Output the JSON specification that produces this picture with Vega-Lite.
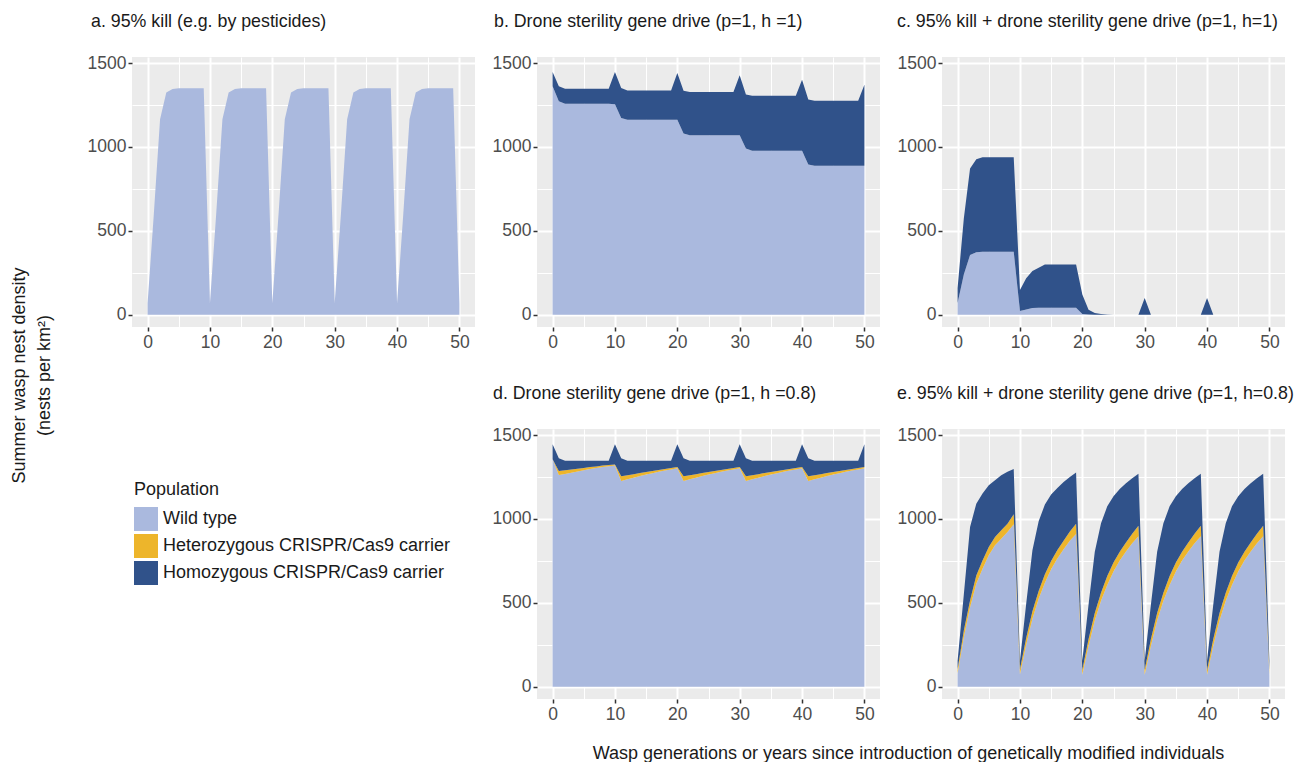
{
 "$schema": "https://vega.github.io/schema/vega-lite/v6.json",
 "padding": {"left": 10, "top": 13, "right": 0, "bottom": 0},
 "background": "white",
 "columns": 3,
 "spacing": {"row": 102, "column": 62},
 "bounds": "flush",
 "datasets": {
  "a": [
   {"t":0,"pop":"Wild type","n":68},{"t":1,"pop":"Wild type","n":600},{"t":2,"pop":"Wild type","n":1165},{"t":3,"pop":"Wild type","n":1325},{"t":4,"pop":"Wild type","n":1345},{"t":5,"pop":"Wild type","n":1350},{"t":6,"pop":"Wild type","n":1350},{"t":7,"pop":"Wild type","n":1350},{"t":8,"pop":"Wild type","n":1350},{"t":9,"pop":"Wild type","n":1350},
   {"t":10,"pop":"Wild type","n":68},{"t":11,"pop":"Wild type","n":600},{"t":12,"pop":"Wild type","n":1165},{"t":13,"pop":"Wild type","n":1325},{"t":14,"pop":"Wild type","n":1345},{"t":15,"pop":"Wild type","n":1350},{"t":16,"pop":"Wild type","n":1350},{"t":17,"pop":"Wild type","n":1350},{"t":18,"pop":"Wild type","n":1350},{"t":19,"pop":"Wild type","n":1350},
   {"t":20,"pop":"Wild type","n":68},{"t":21,"pop":"Wild type","n":600},{"t":22,"pop":"Wild type","n":1165},{"t":23,"pop":"Wild type","n":1325},{"t":24,"pop":"Wild type","n":1345},{"t":25,"pop":"Wild type","n":1350},{"t":26,"pop":"Wild type","n":1350},{"t":27,"pop":"Wild type","n":1350},{"t":28,"pop":"Wild type","n":1350},{"t":29,"pop":"Wild type","n":1350},
   {"t":30,"pop":"Wild type","n":68},{"t":31,"pop":"Wild type","n":600},{"t":32,"pop":"Wild type","n":1165},{"t":33,"pop":"Wild type","n":1325},{"t":34,"pop":"Wild type","n":1345},{"t":35,"pop":"Wild type","n":1350},{"t":36,"pop":"Wild type","n":1350},{"t":37,"pop":"Wild type","n":1350},{"t":38,"pop":"Wild type","n":1350},{"t":39,"pop":"Wild type","n":1350},
   {"t":40,"pop":"Wild type","n":68},{"t":41,"pop":"Wild type","n":600},{"t":42,"pop":"Wild type","n":1165},{"t":43,"pop":"Wild type","n":1325},{"t":44,"pop":"Wild type","n":1345},{"t":45,"pop":"Wild type","n":1350},{"t":46,"pop":"Wild type","n":1350},{"t":47,"pop":"Wild type","n":1350},{"t":48,"pop":"Wild type","n":1350},{"t":49,"pop":"Wild type","n":1350},
   {"t":50,"pop":"Wild type","n":68}
  ],
  "b": [
   {"t":0,"pop":"Wild type","n":1361},{"t":0,"pop":"Homozygous CRISPR/Cas9 carrier","n":85},
   {"t":1,"pop":"Wild type","n":1272},{"t":1,"pop":"Homozygous CRISPR/Cas9 carrier","n":89},
   {"t":2,"pop":"Wild type","n":1258},{"t":2,"pop":"Homozygous CRISPR/Cas9 carrier","n":89},
   {"t":3,"pop":"Wild type","n":1258},{"t":3,"pop":"Homozygous CRISPR/Cas9 carrier","n":89},
   {"t":4,"pop":"Wild type","n":1258},{"t":4,"pop":"Homozygous CRISPR/Cas9 carrier","n":89},
   {"t":5,"pop":"Wild type","n":1258},{"t":5,"pop":"Homozygous CRISPR/Cas9 carrier","n":89},
   {"t":6,"pop":"Wild type","n":1258},{"t":6,"pop":"Homozygous CRISPR/Cas9 carrier","n":89},
   {"t":7,"pop":"Wild type","n":1258},{"t":7,"pop":"Homozygous CRISPR/Cas9 carrier","n":89},
   {"t":8,"pop":"Wild type","n":1258},{"t":8,"pop":"Homozygous CRISPR/Cas9 carrier","n":89},
   {"t":9,"pop":"Wild type","n":1258},{"t":9,"pop":"Homozygous CRISPR/Cas9 carrier","n":89},
   {"t":10,"pop":"Wild type","n":1255},{"t":10,"pop":"Homozygous CRISPR/Cas9 carrier","n":191},
   {"t":11,"pop":"Wild type","n":1172},{"t":11,"pop":"Homozygous CRISPR/Cas9 carrier","n":179},
   {"t":12,"pop":"Wild type","n":1162},{"t":12,"pop":"Homozygous CRISPR/Cas9 carrier","n":175},
   {"t":13,"pop":"Wild type","n":1162},{"t":13,"pop":"Homozygous CRISPR/Cas9 carrier","n":175},
   {"t":14,"pop":"Wild type","n":1162},{"t":14,"pop":"Homozygous CRISPR/Cas9 carrier","n":175},
   {"t":15,"pop":"Wild type","n":1162},{"t":15,"pop":"Homozygous CRISPR/Cas9 carrier","n":175},
   {"t":16,"pop":"Wild type","n":1162},{"t":16,"pop":"Homozygous CRISPR/Cas9 carrier","n":175},
   {"t":17,"pop":"Wild type","n":1162},{"t":17,"pop":"Homozygous CRISPR/Cas9 carrier","n":175},
   {"t":18,"pop":"Wild type","n":1162},{"t":18,"pop":"Homozygous CRISPR/Cas9 carrier","n":175},
   {"t":19,"pop":"Wild type","n":1162},{"t":19,"pop":"Homozygous CRISPR/Cas9 carrier","n":175},
   {"t":20,"pop":"Wild type","n":1162},{"t":20,"pop":"Homozygous CRISPR/Cas9 carrier","n":278},
   {"t":21,"pop":"Wild type","n":1080},{"t":21,"pop":"Homozygous CRISPR/Cas9 carrier","n":255},
   {"t":22,"pop":"Wild type","n":1069},{"t":22,"pop":"Homozygous CRISPR/Cas9 carrier","n":258},
   {"t":23,"pop":"Wild type","n":1069},{"t":23,"pop":"Homozygous CRISPR/Cas9 carrier","n":258},
   {"t":24,"pop":"Wild type","n":1069},{"t":24,"pop":"Homozygous CRISPR/Cas9 carrier","n":258},
   {"t":25,"pop":"Wild type","n":1069},{"t":25,"pop":"Homozygous CRISPR/Cas9 carrier","n":258},
   {"t":26,"pop":"Wild type","n":1069},{"t":26,"pop":"Homozygous CRISPR/Cas9 carrier","n":258},
   {"t":27,"pop":"Wild type","n":1069},{"t":27,"pop":"Homozygous CRISPR/Cas9 carrier","n":258},
   {"t":28,"pop":"Wild type","n":1069},{"t":28,"pop":"Homozygous CRISPR/Cas9 carrier","n":258},
   {"t":29,"pop":"Wild type","n":1069},{"t":29,"pop":"Homozygous CRISPR/Cas9 carrier","n":258},
   {"t":30,"pop":"Wild type","n":1069},{"t":30,"pop":"Homozygous CRISPR/Cas9 carrier","n":358},
   {"t":31,"pop":"Wild type","n":990},{"t":31,"pop":"Homozygous CRISPR/Cas9 carrier","n":322},
   {"t":32,"pop":"Wild type","n":978},{"t":32,"pop":"Homozygous CRISPR/Cas9 carrier","n":327},
   {"t":33,"pop":"Wild type","n":978},{"t":33,"pop":"Homozygous CRISPR/Cas9 carrier","n":327},
   {"t":34,"pop":"Wild type","n":978},{"t":34,"pop":"Homozygous CRISPR/Cas9 carrier","n":327},
   {"t":35,"pop":"Wild type","n":978},{"t":35,"pop":"Homozygous CRISPR/Cas9 carrier","n":327},
   {"t":36,"pop":"Wild type","n":978},{"t":36,"pop":"Homozygous CRISPR/Cas9 carrier","n":327},
   {"t":37,"pop":"Wild type","n":978},{"t":37,"pop":"Homozygous CRISPR/Cas9 carrier","n":327},
   {"t":38,"pop":"Wild type","n":978},{"t":38,"pop":"Homozygous CRISPR/Cas9 carrier","n":327},
   {"t":39,"pop":"Wild type","n":978},{"t":39,"pop":"Homozygous CRISPR/Cas9 carrier","n":327},
   {"t":40,"pop":"Wild type","n":978},{"t":40,"pop":"Homozygous CRISPR/Cas9 carrier","n":423},
   {"t":41,"pop":"Wild type","n":895},{"t":41,"pop":"Homozygous CRISPR/Cas9 carrier","n":388},
   {"t":42,"pop":"Wild type","n":888},{"t":42,"pop":"Homozygous CRISPR/Cas9 carrier","n":388},
   {"t":43,"pop":"Wild type","n":888},{"t":43,"pop":"Homozygous CRISPR/Cas9 carrier","n":388},
   {"t":44,"pop":"Wild type","n":888},{"t":44,"pop":"Homozygous CRISPR/Cas9 carrier","n":388},
   {"t":45,"pop":"Wild type","n":888},{"t":45,"pop":"Homozygous CRISPR/Cas9 carrier","n":388},
   {"t":46,"pop":"Wild type","n":888},{"t":46,"pop":"Homozygous CRISPR/Cas9 carrier","n":388},
   {"t":47,"pop":"Wild type","n":888},{"t":47,"pop":"Homozygous CRISPR/Cas9 carrier","n":388},
   {"t":48,"pop":"Wild type","n":888},{"t":48,"pop":"Homozygous CRISPR/Cas9 carrier","n":388},
   {"t":49,"pop":"Wild type","n":888},{"t":49,"pop":"Homozygous CRISPR/Cas9 carrier","n":388},
   {"t":50,"pop":"Wild type","n":888},{"t":50,"pop":"Homozygous CRISPR/Cas9 carrier","n":483}
  ],
  "c": [
   {"t":0,"pop":"Wild type","n":70},{"t":0,"pop":"Homozygous CRISPR/Cas9 carrier","n":90},
   {"t":1,"pop":"Wild type","n":240},{"t":1,"pop":"Homozygous CRISPR/Cas9 carrier","n":334},
   {"t":2,"pop":"Wild type","n":356},{"t":2,"pop":"Homozygous CRISPR/Cas9 carrier","n":515},
   {"t":3,"pop":"Wild type","n":372},{"t":3,"pop":"Homozygous CRISPR/Cas9 carrier","n":554},
   {"t":4,"pop":"Wild type","n":376},{"t":4,"pop":"Homozygous CRISPR/Cas9 carrier","n":562},
   {"t":5,"pop":"Wild type","n":376},{"t":5,"pop":"Homozygous CRISPR/Cas9 carrier","n":562},
   {"t":6,"pop":"Wild type","n":376},{"t":6,"pop":"Homozygous CRISPR/Cas9 carrier","n":562},
   {"t":7,"pop":"Wild type","n":376},{"t":7,"pop":"Homozygous CRISPR/Cas9 carrier","n":562},
   {"t":8,"pop":"Wild type","n":376},{"t":8,"pop":"Homozygous CRISPR/Cas9 carrier","n":562},
   {"t":9,"pop":"Wild type","n":376},{"t":9,"pop":"Homozygous CRISPR/Cas9 carrier","n":562},
   {"t":10,"pop":"Wild type","n":22},{"t":10,"pop":"Homozygous CRISPR/Cas9 carrier","n":126},
   {"t":11,"pop":"Wild type","n":32},{"t":11,"pop":"Homozygous CRISPR/Cas9 carrier","n":186},
   {"t":12,"pop":"Wild type","n":40},{"t":12,"pop":"Homozygous CRISPR/Cas9 carrier","n":221},
   {"t":13,"pop":"Wild type","n":42},{"t":13,"pop":"Homozygous CRISPR/Cas9 carrier","n":238},
   {"t":14,"pop":"Wild type","n":42},{"t":14,"pop":"Homozygous CRISPR/Cas9 carrier","n":258},
   {"t":15,"pop":"Wild type","n":42},{"t":15,"pop":"Homozygous CRISPR/Cas9 carrier","n":258},
   {"t":16,"pop":"Wild type","n":42},{"t":16,"pop":"Homozygous CRISPR/Cas9 carrier","n":258},
   {"t":17,"pop":"Wild type","n":42},{"t":17,"pop":"Homozygous CRISPR/Cas9 carrier","n":258},
   {"t":18,"pop":"Wild type","n":42},{"t":18,"pop":"Homozygous CRISPR/Cas9 carrier","n":258},
   {"t":19,"pop":"Wild type","n":42},{"t":19,"pop":"Homozygous CRISPR/Cas9 carrier","n":258},
   {"t":20,"pop":"Wild type","n":4},{"t":20,"pop":"Homozygous CRISPR/Cas9 carrier","n":116},
   {"t":21,"pop":"Wild type","n":1},{"t":21,"pop":"Homozygous CRISPR/Cas9 carrier","n":29},
   {"t":22,"pop":"Wild type","n":0},{"t":22,"pop":"Homozygous CRISPR/Cas9 carrier","n":10},
   {"t":23,"pop":"Wild type","n":0},{"t":23,"pop":"Homozygous CRISPR/Cas9 carrier","n":4},
   {"t":24,"pop":"Wild type","n":0},{"t":24,"pop":"Homozygous CRISPR/Cas9 carrier","n":1},
   {"t":25,"pop":"Wild type","n":0},{"t":25,"pop":"Homozygous CRISPR/Cas9 carrier","n":0},
   {"t":26,"pop":"Wild type","n":0},{"t":26,"pop":"Homozygous CRISPR/Cas9 carrier","n":0},
   {"t":27,"pop":"Wild type","n":0},{"t":27,"pop":"Homozygous CRISPR/Cas9 carrier","n":0},
   {"t":28,"pop":"Wild type","n":0},{"t":28,"pop":"Homozygous CRISPR/Cas9 carrier","n":0},
   {"t":29,"pop":"Wild type","n":0},{"t":29,"pop":"Homozygous CRISPR/Cas9 carrier","n":0},
   {"t":30,"pop":"Wild type","n":0},{"t":30,"pop":"Homozygous CRISPR/Cas9 carrier","n":100},
   {"t":31,"pop":"Wild type","n":0},{"t":31,"pop":"Homozygous CRISPR/Cas9 carrier","n":0},
   {"t":32,"pop":"Wild type","n":0},{"t":32,"pop":"Homozygous CRISPR/Cas9 carrier","n":0},
   {"t":33,"pop":"Wild type","n":0},{"t":33,"pop":"Homozygous CRISPR/Cas9 carrier","n":0},
   {"t":34,"pop":"Wild type","n":0},{"t":34,"pop":"Homozygous CRISPR/Cas9 carrier","n":0},
   {"t":35,"pop":"Wild type","n":0},{"t":35,"pop":"Homozygous CRISPR/Cas9 carrier","n":0},
   {"t":36,"pop":"Wild type","n":0},{"t":36,"pop":"Homozygous CRISPR/Cas9 carrier","n":0},
   {"t":37,"pop":"Wild type","n":0},{"t":37,"pop":"Homozygous CRISPR/Cas9 carrier","n":0},
   {"t":38,"pop":"Wild type","n":0},{"t":38,"pop":"Homozygous CRISPR/Cas9 carrier","n":0},
   {"t":39,"pop":"Wild type","n":0},{"t":39,"pop":"Homozygous CRISPR/Cas9 carrier","n":0},
   {"t":40,"pop":"Wild type","n":0},{"t":40,"pop":"Homozygous CRISPR/Cas9 carrier","n":100},
   {"t":41,"pop":"Wild type","n":0},{"t":41,"pop":"Homozygous CRISPR/Cas9 carrier","n":0},
   {"t":42,"pop":"Wild type","n":0},{"t":42,"pop":"Homozygous CRISPR/Cas9 carrier","n":0},
   {"t":43,"pop":"Wild type","n":0},{"t":43,"pop":"Homozygous CRISPR/Cas9 carrier","n":0},
   {"t":44,"pop":"Wild type","n":0},{"t":44,"pop":"Homozygous CRISPR/Cas9 carrier","n":0},
   {"t":45,"pop":"Wild type","n":0},{"t":45,"pop":"Homozygous CRISPR/Cas9 carrier","n":0},
   {"t":46,"pop":"Wild type","n":0},{"t":46,"pop":"Homozygous CRISPR/Cas9 carrier","n":0},
   {"t":47,"pop":"Wild type","n":0},{"t":47,"pop":"Homozygous CRISPR/Cas9 carrier","n":0},
   {"t":48,"pop":"Wild type","n":0},{"t":48,"pop":"Homozygous CRISPR/Cas9 carrier","n":0},
   {"t":49,"pop":"Wild type","n":0},{"t":49,"pop":"Homozygous CRISPR/Cas9 carrier","n":0},
   {"t":50,"pop":"Wild type","n":0},{"t":50,"pop":"Homozygous CRISPR/Cas9 carrier","n":0}
  ],
  "d": [
   {"t":0,"pop":"Wild type","n":1355},{"t":0,"pop":"Heterozygous CRISPR/Cas9 carrier","n":0},{"t":0,"pop":"Homozygous CRISPR/Cas9 carrier","n":90},
   {"t":1,"pop":"Wild type","n":1262},{"t":1,"pop":"Heterozygous CRISPR/Cas9 carrier","n":24},{"t":1,"pop":"Homozygous CRISPR/Cas9 carrier","n":76},
   {"t":2,"pop":"Wild type","n":1268},{"t":2,"pop":"Heterozygous CRISPR/Cas9 carrier","n":22},{"t":2,"pop":"Homozygous CRISPR/Cas9 carrier","n":57},
   {"t":3,"pop":"Wild type","n":1276},{"t":3,"pop":"Heterozygous CRISPR/Cas9 carrier","n":19},{"t":3,"pop":"Homozygous CRISPR/Cas9 carrier","n":52},
   {"t":4,"pop":"Wild type","n":1283},{"t":4,"pop":"Heterozygous CRISPR/Cas9 carrier","n":16},{"t":4,"pop":"Homozygous CRISPR/Cas9 carrier","n":48},
   {"t":5,"pop":"Wild type","n":1290},{"t":5,"pop":"Heterozygous CRISPR/Cas9 carrier","n":14},{"t":5,"pop":"Homozygous CRISPR/Cas9 carrier","n":43},
   {"t":6,"pop":"Wild type","n":1297},{"t":6,"pop":"Heterozygous CRISPR/Cas9 carrier","n":12},{"t":6,"pop":"Homozygous CRISPR/Cas9 carrier","n":38},
   {"t":7,"pop":"Wild type","n":1303},{"t":7,"pop":"Heterozygous CRISPR/Cas9 carrier","n":10},{"t":7,"pop":"Homozygous CRISPR/Cas9 carrier","n":34},
   {"t":8,"pop":"Wild type","n":1309},{"t":8,"pop":"Heterozygous CRISPR/Cas9 carrier","n":9},{"t":8,"pop":"Homozygous CRISPR/Cas9 carrier","n":29},
   {"t":9,"pop":"Wild type","n":1314},{"t":9,"pop":"Heterozygous CRISPR/Cas9 carrier","n":8},{"t":9,"pop":"Homozygous CRISPR/Cas9 carrier","n":25},
   {"t":10,"pop":"Wild type","n":1318},{"t":10,"pop":"Heterozygous CRISPR/Cas9 carrier","n":7},{"t":10,"pop":"Homozygous CRISPR/Cas9 carrier","n":120},
   {"t":11,"pop":"Wild type","n":1226},{"t":11,"pop":"Heterozygous CRISPR/Cas9 carrier","n":28},{"t":11,"pop":"Homozygous CRISPR/Cas9 carrier","n":108},
   {"t":12,"pop":"Wild type","n":1236},{"t":12,"pop":"Heterozygous CRISPR/Cas9 carrier","n":25},{"t":12,"pop":"Homozygous CRISPR/Cas9 carrier","n":86},
   {"t":13,"pop":"Wild type","n":1246},{"t":13,"pop":"Heterozygous CRISPR/Cas9 carrier","n":21},{"t":13,"pop":"Homozygous CRISPR/Cas9 carrier","n":80},
   {"t":14,"pop":"Wild type","n":1256},{"t":14,"pop":"Heterozygous CRISPR/Cas9 carrier","n":18},{"t":14,"pop":"Homozygous CRISPR/Cas9 carrier","n":73},
   {"t":15,"pop":"Wild type","n":1265},{"t":15,"pop":"Heterozygous CRISPR/Cas9 carrier","n":15},{"t":15,"pop":"Homozygous CRISPR/Cas9 carrier","n":67},
   {"t":16,"pop":"Wild type","n":1273},{"t":16,"pop":"Heterozygous CRISPR/Cas9 carrier","n":13},{"t":16,"pop":"Homozygous CRISPR/Cas9 carrier","n":61},
   {"t":17,"pop":"Wild type","n":1281},{"t":17,"pop":"Heterozygous CRISPR/Cas9 carrier","n":11},{"t":17,"pop":"Homozygous CRISPR/Cas9 carrier","n":55},
   {"t":18,"pop":"Wild type","n":1288},{"t":18,"pop":"Heterozygous CRISPR/Cas9 carrier","n":9},{"t":18,"pop":"Homozygous CRISPR/Cas9 carrier","n":50},
   {"t":19,"pop":"Wild type","n":1295},{"t":19,"pop":"Heterozygous CRISPR/Cas9 carrier","n":8},{"t":19,"pop":"Homozygous CRISPR/Cas9 carrier","n":44},
   {"t":20,"pop":"Wild type","n":1302},{"t":20,"pop":"Heterozygous CRISPR/Cas9 carrier","n":7},{"t":20,"pop":"Homozygous CRISPR/Cas9 carrier","n":136},
   {"t":21,"pop":"Wild type","n":1226},{"t":21,"pop":"Heterozygous CRISPR/Cas9 carrier","n":28},{"t":21,"pop":"Homozygous CRISPR/Cas9 carrier","n":108},
   {"t":22,"pop":"Wild type","n":1236},{"t":22,"pop":"Heterozygous CRISPR/Cas9 carrier","n":25},{"t":22,"pop":"Homozygous CRISPR/Cas9 carrier","n":86},
   {"t":23,"pop":"Wild type","n":1246},{"t":23,"pop":"Heterozygous CRISPR/Cas9 carrier","n":21},{"t":23,"pop":"Homozygous CRISPR/Cas9 carrier","n":80},
   {"t":24,"pop":"Wild type","n":1256},{"t":24,"pop":"Heterozygous CRISPR/Cas9 carrier","n":18},{"t":24,"pop":"Homozygous CRISPR/Cas9 carrier","n":73},
   {"t":25,"pop":"Wild type","n":1265},{"t":25,"pop":"Heterozygous CRISPR/Cas9 carrier","n":15},{"t":25,"pop":"Homozygous CRISPR/Cas9 carrier","n":67},
   {"t":26,"pop":"Wild type","n":1273},{"t":26,"pop":"Heterozygous CRISPR/Cas9 carrier","n":13},{"t":26,"pop":"Homozygous CRISPR/Cas9 carrier","n":61},
   {"t":27,"pop":"Wild type","n":1281},{"t":27,"pop":"Heterozygous CRISPR/Cas9 carrier","n":11},{"t":27,"pop":"Homozygous CRISPR/Cas9 carrier","n":55},
   {"t":28,"pop":"Wild type","n":1288},{"t":28,"pop":"Heterozygous CRISPR/Cas9 carrier","n":9},{"t":28,"pop":"Homozygous CRISPR/Cas9 carrier","n":50},
   {"t":29,"pop":"Wild type","n":1295},{"t":29,"pop":"Heterozygous CRISPR/Cas9 carrier","n":8},{"t":29,"pop":"Homozygous CRISPR/Cas9 carrier","n":44},
   {"t":30,"pop":"Wild type","n":1302},{"t":30,"pop":"Heterozygous CRISPR/Cas9 carrier","n":7},{"t":30,"pop":"Homozygous CRISPR/Cas9 carrier","n":136},
   {"t":31,"pop":"Wild type","n":1226},{"t":31,"pop":"Heterozygous CRISPR/Cas9 carrier","n":28},{"t":31,"pop":"Homozygous CRISPR/Cas9 carrier","n":108},
   {"t":32,"pop":"Wild type","n":1236},{"t":32,"pop":"Heterozygous CRISPR/Cas9 carrier","n":25},{"t":32,"pop":"Homozygous CRISPR/Cas9 carrier","n":86},
   {"t":33,"pop":"Wild type","n":1246},{"t":33,"pop":"Heterozygous CRISPR/Cas9 carrier","n":21},{"t":33,"pop":"Homozygous CRISPR/Cas9 carrier","n":80},
   {"t":34,"pop":"Wild type","n":1256},{"t":34,"pop":"Heterozygous CRISPR/Cas9 carrier","n":18},{"t":34,"pop":"Homozygous CRISPR/Cas9 carrier","n":73},
   {"t":35,"pop":"Wild type","n":1265},{"t":35,"pop":"Heterozygous CRISPR/Cas9 carrier","n":15},{"t":35,"pop":"Homozygous CRISPR/Cas9 carrier","n":67},
   {"t":36,"pop":"Wild type","n":1273},{"t":36,"pop":"Heterozygous CRISPR/Cas9 carrier","n":13},{"t":36,"pop":"Homozygous CRISPR/Cas9 carrier","n":61},
   {"t":37,"pop":"Wild type","n":1281},{"t":37,"pop":"Heterozygous CRISPR/Cas9 carrier","n":11},{"t":37,"pop":"Homozygous CRISPR/Cas9 carrier","n":55},
   {"t":38,"pop":"Wild type","n":1288},{"t":38,"pop":"Heterozygous CRISPR/Cas9 carrier","n":9},{"t":38,"pop":"Homozygous CRISPR/Cas9 carrier","n":50},
   {"t":39,"pop":"Wild type","n":1295},{"t":39,"pop":"Heterozygous CRISPR/Cas9 carrier","n":8},{"t":39,"pop":"Homozygous CRISPR/Cas9 carrier","n":44},
   {"t":40,"pop":"Wild type","n":1302},{"t":40,"pop":"Heterozygous CRISPR/Cas9 carrier","n":7},{"t":40,"pop":"Homozygous CRISPR/Cas9 carrier","n":136},
   {"t":41,"pop":"Wild type","n":1226},{"t":41,"pop":"Heterozygous CRISPR/Cas9 carrier","n":28},{"t":41,"pop":"Homozygous CRISPR/Cas9 carrier","n":108},
   {"t":42,"pop":"Wild type","n":1236},{"t":42,"pop":"Heterozygous CRISPR/Cas9 carrier","n":25},{"t":42,"pop":"Homozygous CRISPR/Cas9 carrier","n":86},
   {"t":43,"pop":"Wild type","n":1246},{"t":43,"pop":"Heterozygous CRISPR/Cas9 carrier","n":21},{"t":43,"pop":"Homozygous CRISPR/Cas9 carrier","n":80},
   {"t":44,"pop":"Wild type","n":1256},{"t":44,"pop":"Heterozygous CRISPR/Cas9 carrier","n":18},{"t":44,"pop":"Homozygous CRISPR/Cas9 carrier","n":73},
   {"t":45,"pop":"Wild type","n":1265},{"t":45,"pop":"Heterozygous CRISPR/Cas9 carrier","n":15},{"t":45,"pop":"Homozygous CRISPR/Cas9 carrier","n":67},
   {"t":46,"pop":"Wild type","n":1273},{"t":46,"pop":"Heterozygous CRISPR/Cas9 carrier","n":13},{"t":46,"pop":"Homozygous CRISPR/Cas9 carrier","n":61},
   {"t":47,"pop":"Wild type","n":1281},{"t":47,"pop":"Heterozygous CRISPR/Cas9 carrier","n":11},{"t":47,"pop":"Homozygous CRISPR/Cas9 carrier","n":55},
   {"t":48,"pop":"Wild type","n":1288},{"t":48,"pop":"Heterozygous CRISPR/Cas9 carrier","n":9},{"t":48,"pop":"Homozygous CRISPR/Cas9 carrier","n":50},
   {"t":49,"pop":"Wild type","n":1295},{"t":49,"pop":"Heterozygous CRISPR/Cas9 carrier","n":8},{"t":49,"pop":"Homozygous CRISPR/Cas9 carrier","n":44},
   {"t":50,"pop":"Wild type","n":1302},{"t":50,"pop":"Heterozygous CRISPR/Cas9 carrier","n":7},{"t":50,"pop":"Homozygous CRISPR/Cas9 carrier","n":136}
  ],
  "e": [
   {"t":0,"pop":"Wild type","n":80},{"t":0,"pop":"Heterozygous CRISPR/Cas9 carrier","n":25},{"t":0,"pop":"Homozygous CRISPR/Cas9 carrier","n":50},
   {"t":1,"pop":"Wild type","n":295},{"t":1,"pop":"Heterozygous CRISPR/Cas9 carrier","n":40},{"t":1,"pop":"Homozygous CRISPR/Cas9 carrier","n":215},
   {"t":2,"pop":"Wild type","n":474},{"t":2,"pop":"Heterozygous CRISPR/Cas9 carrier","n":40},{"t":2,"pop":"Homozygous CRISPR/Cas9 carrier","n":438},
   {"t":3,"pop":"Wild type","n":614},{"t":3,"pop":"Heterozygous CRISPR/Cas9 carrier","n":49},{"t":3,"pop":"Homozygous CRISPR/Cas9 carrier","n":428},
   {"t":4,"pop":"Wild type","n":703},{"t":4,"pop":"Heterozygous CRISPR/Cas9 carrier","n":50},{"t":4,"pop":"Homozygous CRISPR/Cas9 carrier","n":398},
   {"t":5,"pop":"Wild type","n":783},{"t":5,"pop":"Heterozygous CRISPR/Cas9 carrier","n":50},{"t":5,"pop":"Homozygous CRISPR/Cas9 carrier","n":368},
   {"t":6,"pop":"Wild type","n":843},{"t":6,"pop":"Heterozygous CRISPR/Cas9 carrier","n":49},{"t":6,"pop":"Homozygous CRISPR/Cas9 carrier","n":339},
   {"t":7,"pop":"Wild type","n":882},{"t":7,"pop":"Heterozygous CRISPR/Cas9 carrier","n":50},{"t":7,"pop":"Homozygous CRISPR/Cas9 carrier","n":329},
   {"t":8,"pop":"Wild type","n":922},{"t":8,"pop":"Heterozygous CRISPR/Cas9 carrier","n":50},{"t":8,"pop":"Homozygous CRISPR/Cas9 carrier","n":309},
   {"t":9,"pop":"Wild type","n":968},{"t":9,"pop":"Heterozygous CRISPR/Cas9 carrier","n":60},{"t":9,"pop":"Homozygous CRISPR/Cas9 carrier","n":269},
   {"t":10,"pop":"Wild type","n":75},{"t":10,"pop":"Heterozygous CRISPR/Cas9 carrier","n":30},{"t":10,"pop":"Homozygous CRISPR/Cas9 carrier","n":50},
   {"t":11,"pop":"Wild type","n":250},{"t":11,"pop":"Heterozygous CRISPR/Cas9 carrier","n":40},{"t":11,"pop":"Homozygous CRISPR/Cas9 carrier","n":204},
   {"t":12,"pop":"Wild type","n":405},{"t":12,"pop":"Heterozygous CRISPR/Cas9 carrier","n":45},{"t":12,"pop":"Homozygous CRISPR/Cas9 carrier","n":363},
   {"t":13,"pop":"Wild type","n":525},{"t":13,"pop":"Heterozygous CRISPR/Cas9 carrier","n":45},{"t":13,"pop":"Homozygous CRISPR/Cas9 carrier","n":416},
   {"t":14,"pop":"Wild type","n":620},{"t":14,"pop":"Heterozygous CRISPR/Cas9 carrier","n":50},{"t":14,"pop":"Homozygous CRISPR/Cas9 carrier","n":416},
   {"t":15,"pop":"Wild type","n":700},{"t":15,"pop":"Heterozygous CRISPR/Cas9 carrier","n":50},{"t":15,"pop":"Homozygous CRISPR/Cas9 carrier","n":395},
   {"t":16,"pop":"Wild type","n":765},{"t":16,"pop":"Heterozygous CRISPR/Cas9 carrier","n":50},{"t":16,"pop":"Homozygous CRISPR/Cas9 carrier","n":370},
   {"t":17,"pop":"Wild type","n":820},{"t":17,"pop":"Heterozygous CRISPR/Cas9 carrier","n":50},{"t":17,"pop":"Homozygous CRISPR/Cas9 carrier","n":350},
   {"t":18,"pop":"Wild type","n":870},{"t":18,"pop":"Heterozygous CRISPR/Cas9 carrier","n":55},{"t":18,"pop":"Homozygous CRISPR/Cas9 carrier","n":325},
   {"t":19,"pop":"Wild type","n":910},{"t":19,"pop":"Heterozygous CRISPR/Cas9 carrier","n":62},{"t":19,"pop":"Homozygous CRISPR/Cas9 carrier","n":305},
   {"t":20,"pop":"Wild type","n":72},{"t":20,"pop":"Heterozygous CRISPR/Cas9 carrier","n":28},{"t":20,"pop":"Homozygous CRISPR/Cas9 carrier","n":55},
   {"t":21,"pop":"Wild type","n":245},{"t":21,"pop":"Heterozygous CRISPR/Cas9 carrier","n":40},{"t":21,"pop":"Homozygous CRISPR/Cas9 carrier","n":205},
   {"t":22,"pop":"Wild type","n":395},{"t":22,"pop":"Heterozygous CRISPR/Cas9 carrier","n":45},{"t":22,"pop":"Homozygous CRISPR/Cas9 carrier","n":365},
   {"t":23,"pop":"Wild type","n":512},{"t":23,"pop":"Heterozygous CRISPR/Cas9 carrier","n":48},{"t":23,"pop":"Homozygous CRISPR/Cas9 carrier","n":415},
   {"t":24,"pop":"Wild type","n":607},{"t":24,"pop":"Heterozygous CRISPR/Cas9 carrier","n":53},{"t":24,"pop":"Homozygous CRISPR/Cas9 carrier","n":415},
   {"t":25,"pop":"Wild type","n":687},{"t":25,"pop":"Heterozygous CRISPR/Cas9 carrier","n":53},{"t":25,"pop":"Homozygous CRISPR/Cas9 carrier","n":395},
   {"t":26,"pop":"Wild type","n":752},{"t":26,"pop":"Heterozygous CRISPR/Cas9 carrier","n":53},{"t":26,"pop":"Homozygous CRISPR/Cas9 carrier","n":373},
   {"t":27,"pop":"Wild type","n":806},{"t":27,"pop":"Heterozygous CRISPR/Cas9 carrier","n":54},{"t":27,"pop":"Homozygous CRISPR/Cas9 carrier","n":353},
   {"t":28,"pop":"Wild type","n":855},{"t":28,"pop":"Heterozygous CRISPR/Cas9 carrier","n":57},{"t":28,"pop":"Homozygous CRISPR/Cas9 carrier","n":331},
   {"t":29,"pop":"Wild type","n":897},{"t":29,"pop":"Heterozygous CRISPR/Cas9 carrier","n":63},{"t":29,"pop":"Homozygous CRISPR/Cas9 carrier","n":310},
   {"t":30,"pop":"Wild type","n":72},{"t":30,"pop":"Heterozygous CRISPR/Cas9 carrier","n":28},{"t":30,"pop":"Homozygous CRISPR/Cas9 carrier","n":55},
   {"t":31,"pop":"Wild type","n":245},{"t":31,"pop":"Heterozygous CRISPR/Cas9 carrier","n":40},{"t":31,"pop":"Homozygous CRISPR/Cas9 carrier","n":205},
   {"t":32,"pop":"Wild type","n":395},{"t":32,"pop":"Heterozygous CRISPR/Cas9 carrier","n":45},{"t":32,"pop":"Homozygous CRISPR/Cas9 carrier","n":365},
   {"t":33,"pop":"Wild type","n":512},{"t":33,"pop":"Heterozygous CRISPR/Cas9 carrier","n":48},{"t":33,"pop":"Homozygous CRISPR/Cas9 carrier","n":415},
   {"t":34,"pop":"Wild type","n":607},{"t":34,"pop":"Heterozygous CRISPR/Cas9 carrier","n":53},{"t":34,"pop":"Homozygous CRISPR/Cas9 carrier","n":415},
   {"t":35,"pop":"Wild type","n":687},{"t":35,"pop":"Heterozygous CRISPR/Cas9 carrier","n":53},{"t":35,"pop":"Homozygous CRISPR/Cas9 carrier","n":395},
   {"t":36,"pop":"Wild type","n":752},{"t":36,"pop":"Heterozygous CRISPR/Cas9 carrier","n":53},{"t":36,"pop":"Homozygous CRISPR/Cas9 carrier","n":373},
   {"t":37,"pop":"Wild type","n":806},{"t":37,"pop":"Heterozygous CRISPR/Cas9 carrier","n":54},{"t":37,"pop":"Homozygous CRISPR/Cas9 carrier","n":353},
   {"t":38,"pop":"Wild type","n":855},{"t":38,"pop":"Heterozygous CRISPR/Cas9 carrier","n":57},{"t":38,"pop":"Homozygous CRISPR/Cas9 carrier","n":331},
   {"t":39,"pop":"Wild type","n":897},{"t":39,"pop":"Heterozygous CRISPR/Cas9 carrier","n":63},{"t":39,"pop":"Homozygous CRISPR/Cas9 carrier","n":310},
   {"t":40,"pop":"Wild type","n":72},{"t":40,"pop":"Heterozygous CRISPR/Cas9 carrier","n":28},{"t":40,"pop":"Homozygous CRISPR/Cas9 carrier","n":55},
   {"t":41,"pop":"Wild type","n":245},{"t":41,"pop":"Heterozygous CRISPR/Cas9 carrier","n":40},{"t":41,"pop":"Homozygous CRISPR/Cas9 carrier","n":205},
   {"t":42,"pop":"Wild type","n":395},{"t":42,"pop":"Heterozygous CRISPR/Cas9 carrier","n":45},{"t":42,"pop":"Homozygous CRISPR/Cas9 carrier","n":365},
   {"t":43,"pop":"Wild type","n":512},{"t":43,"pop":"Heterozygous CRISPR/Cas9 carrier","n":48},{"t":43,"pop":"Homozygous CRISPR/Cas9 carrier","n":415},
   {"t":44,"pop":"Wild type","n":607},{"t":44,"pop":"Heterozygous CRISPR/Cas9 carrier","n":53},{"t":44,"pop":"Homozygous CRISPR/Cas9 carrier","n":415},
   {"t":45,"pop":"Wild type","n":687},{"t":45,"pop":"Heterozygous CRISPR/Cas9 carrier","n":53},{"t":45,"pop":"Homozygous CRISPR/Cas9 carrier","n":395},
   {"t":46,"pop":"Wild type","n":752},{"t":46,"pop":"Heterozygous CRISPR/Cas9 carrier","n":53},{"t":46,"pop":"Homozygous CRISPR/Cas9 carrier","n":373},
   {"t":47,"pop":"Wild type","n":806},{"t":47,"pop":"Heterozygous CRISPR/Cas9 carrier","n":54},{"t":47,"pop":"Homozygous CRISPR/Cas9 carrier","n":353},
   {"t":48,"pop":"Wild type","n":855},{"t":48,"pop":"Heterozygous CRISPR/Cas9 carrier","n":57},{"t":48,"pop":"Homozygous CRISPR/Cas9 carrier","n":331},
   {"t":49,"pop":"Wild type","n":897},{"t":49,"pop":"Heterozygous CRISPR/Cas9 carrier","n":63},{"t":49,"pop":"Homozygous CRISPR/Cas9 carrier","n":310},
   {"t":50,"pop":"Wild type","n":72},{"t":50,"pop":"Heterozygous CRISPR/Cas9 carrier","n":28},{"t":50,"pop":"Homozygous CRISPR/Cas9 carrier","n":55}
  ]
 },
 "concat": [
  {
   "width": 343, "height": 270,
   "title": {"text": "a. 95% kill (e.g. by pesticides)", "dx": -41},
   "data": {"name": "a"},
   "layer": [
    {"mark": {"type": "point", "opacity": 0},
     "encoding": {
      "x": {"field": "t", "type": "quantitative", "scale": {"domain": [-2.5, 52.5], "nice": false, "zero": false}, "axis": {"orient": "bottom", "values": [5, 15, 25, 35, 45], "grid": true, "gridWidth": 1, "ticks": false, "labels": false, "domain": false, "title": null}},
      "y": {"field": "n", "type": "quantitative", "scale": {"domain": [-73, 1536], "nice": false, "zero": false}, "axis": {"orient": "left", "values": [250, 750, 1250], "grid": true, "gridWidth": 1, "ticks": false, "labels": false, "domain": false, "title": null}}
     }},
    {"mark": {"type": "area", "interpolate": "linear"},
     "transform": [{"calculate": "indexof(['Wild type', 'Heterozygous CRISPR/Cas9 carrier', 'Homozygous CRISPR/Cas9 carrier'], datum.pop)", "as": "stack_rank"}],
     "encoding": {
      "x": {"field": "t", "type": "quantitative", "scale": {"domain": [-2.5, 52.5], "nice": false, "zero": false}, "axis": {"orient": "bottom", "values": [0, 10, 20, 30, 40, 50], "grid": true, "gridWidth": 2, "labelFlush": false, "title": null}},
      "y": {"field": "n", "type": "quantitative", "stack": "zero", "scale": {"domain": [-73, 1536], "nice": false, "zero": false}, "axis": {"orient": "left", "values": [0, 500, 1000, 1500], "format": "d", "grid": true, "gridWidth": 2, "title": ["Summer wasp nest density", "(nests per km²)"], "titleX": -113, "titleY": 318, "titleAngle": -90, "titleAlign": "center", "titleBaseline": "middle", "titleLineHeight": 25, "titleFontSize": 18}},
      "order": {"field": "stack_rank", "type": "quantitative"},
      "color": {"field": "pop", "type": "nominal", "scale": {"domain": ["Wild type", "Heterozygous CRISPR/Cas9 carrier", "Homozygous CRISPR/Cas9 carrier"], "range": ["#AAB9DE", "#EDB52B", "#30528A"]}, "title": "Population"}
     }}
   ],
   "resolve": {"axis": {"x": "independent", "y": "independent"}}
  },
  {
   "width": 343, "height": 270,
   "title": {"text": "b. Drone sterility gene drive (p=1, h =1)", "dx": -43},
   "data": {"name": "b"},
   "layer": [
    {"mark": {"type": "point", "opacity": 0},
     "encoding": {
      "x": {"field": "t", "type": "quantitative", "scale": {"domain": [-2.5, 52.5], "nice": false, "zero": false}, "axis": {"orient": "bottom", "values": [5, 15, 25, 35, 45], "grid": true, "gridWidth": 1, "ticks": false, "labels": false, "domain": false, "title": null}},
      "y": {"field": "n", "type": "quantitative", "scale": {"domain": [-73, 1536], "nice": false, "zero": false}, "axis": {"orient": "left", "values": [250, 750, 1250], "grid": true, "gridWidth": 1, "ticks": false, "labels": false, "domain": false, "title": null}}
     }},
    {"mark": {"type": "area", "interpolate": "linear"},
     "transform": [{"calculate": "indexof(['Wild type', 'Heterozygous CRISPR/Cas9 carrier', 'Homozygous CRISPR/Cas9 carrier'], datum.pop)", "as": "stack_rank"}],
     "encoding": {
      "x": {"field": "t", "type": "quantitative", "scale": {"domain": [-2.5, 52.5], "nice": false, "zero": false}, "axis": {"orient": "bottom", "values": [0, 10, 20, 30, 40, 50], "grid": true, "gridWidth": 2, "labelFlush": false, "title": null}},
      "y": {"field": "n", "type": "quantitative", "stack": "zero", "scale": {"domain": [-73, 1536], "nice": false, "zero": false}, "axis": {"orient": "left", "values": [0, 500, 1000, 1500], "format": "d", "grid": true, "gridWidth": 2, "title": null}},
      "order": {"field": "stack_rank", "type": "quantitative"},
      "color": {"field": "pop", "type": "nominal", "scale": {"domain": ["Wild type", "Heterozygous CRISPR/Cas9 carrier", "Homozygous CRISPR/Cas9 carrier"], "range": ["#AAB9DE", "#EDB52B", "#30528A"]}, "title": "Population"}
     }}
   ],
   "resolve": {"axis": {"x": "independent", "y": "independent"}}
  },
  {
   "width": 343, "height": 270,
   "title": {"text": "c. 95% kill + drone sterility gene drive (p=1, h=1)", "dx": -45},
   "data": {"name": "c"},
   "layer": [
    {"mark": {"type": "point", "opacity": 0},
     "encoding": {
      "x": {"field": "t", "type": "quantitative", "scale": {"domain": [-2.5, 52.5], "nice": false, "zero": false}, "axis": {"orient": "bottom", "values": [5, 15, 25, 35, 45], "grid": true, "gridWidth": 1, "ticks": false, "labels": false, "domain": false, "title": null}},
      "y": {"field": "n", "type": "quantitative", "scale": {"domain": [-73, 1536], "nice": false, "zero": false}, "axis": {"orient": "left", "values": [250, 750, 1250], "grid": true, "gridWidth": 1, "ticks": false, "labels": false, "domain": false, "title": null}}
     }},
    {"mark": {"type": "area", "interpolate": "linear"},
     "transform": [{"calculate": "indexof(['Wild type', 'Heterozygous CRISPR/Cas9 carrier', 'Homozygous CRISPR/Cas9 carrier'], datum.pop)", "as": "stack_rank"}],
     "encoding": {
      "x": {"field": "t", "type": "quantitative", "scale": {"domain": [-2.5, 52.5], "nice": false, "zero": false}, "axis": {"orient": "bottom", "values": [0, 10, 20, 30, 40, 50], "grid": true, "gridWidth": 2, "labelFlush": false, "title": null}},
      "y": {"field": "n", "type": "quantitative", "stack": "zero", "scale": {"domain": [-73, 1536], "nice": false, "zero": false}, "axis": {"orient": "left", "values": [0, 500, 1000, 1500], "format": "d", "grid": true, "gridWidth": 2, "title": null}},
      "order": {"field": "stack_rank", "type": "quantitative"},
      "color": {"field": "pop", "type": "nominal", "scale": {"domain": ["Wild type", "Heterozygous CRISPR/Cas9 carrier", "Homozygous CRISPR/Cas9 carrier"], "range": ["#AAB9DE", "#EDB52B", "#30528A"]}, "title": "Population"}
     }}
   ],
   "resolve": {"axis": {"x": "independent", "y": "independent"}}
  },
  {
   "width": 343, "height": 270,
   "view": {"fill": "transparent", "stroke": "transparent"},
   "data": {"values": [{}]},
   "mark": {"type": "text", "opacity": 0},
   "encoding": {"text": {"value": ""}}
  },
  {
   "width": 343, "height": 270,
   "title": {"text": "d. Drone sterility gene drive (p=1, h =0.8)", "dx": -44},
   "data": {"name": "d"},
   "layer": [
    {"mark": {"type": "point", "opacity": 0},
     "encoding": {
      "x": {"field": "t", "type": "quantitative", "scale": {"domain": [-2.5, 52.5], "nice": false, "zero": false}, "axis": {"orient": "bottom", "values": [5, 15, 25, 35, 45], "grid": true, "gridWidth": 1, "ticks": false, "labels": false, "domain": false, "title": null}},
      "y": {"field": "n", "type": "quantitative", "scale": {"domain": [-73, 1536], "nice": false, "zero": false}, "axis": {"orient": "left", "values": [250, 750, 1250], "grid": true, "gridWidth": 1, "ticks": false, "labels": false, "domain": false, "title": null}}
     }},
    {"mark": {"type": "area", "interpolate": "linear"},
     "transform": [{"calculate": "indexof(['Wild type', 'Heterozygous CRISPR/Cas9 carrier', 'Homozygous CRISPR/Cas9 carrier'], datum.pop)", "as": "stack_rank"}],
     "encoding": {
      "x": {"field": "t", "type": "quantitative", "scale": {"domain": [-2.5, 52.5], "nice": false, "zero": false}, "axis": {"orient": "bottom", "values": [0, 10, 20, 30, 40, 50], "grid": true, "gridWidth": 2, "labelFlush": false, "title": "Wasp generations or years since introduction of genetically modified individuals", "titleX": 371, "titleY": 54, "titleAlign": "center", "titleBaseline": "middle", "titleFontSize": 18}},
      "y": {"field": "n", "type": "quantitative", "stack": "zero", "scale": {"domain": [-73, 1536], "nice": false, "zero": false}, "axis": {"orient": "left", "values": [0, 500, 1000, 1500], "format": "d", "grid": true, "gridWidth": 2, "title": null}},
      "order": {"field": "stack_rank", "type": "quantitative"},
      "color": {"field": "pop", "type": "nominal", "scale": {"domain": ["Wild type", "Heterozygous CRISPR/Cas9 carrier", "Homozygous CRISPR/Cas9 carrier"], "range": ["#AAB9DE", "#EDB52B", "#30528A"]}, "title": "Population"}
     }}
   ],
   "resolve": {"axis": {"x": "independent", "y": "independent"}}
  },
  {
   "width": 343, "height": 270,
   "title": {"text": "e. 95% kill + drone sterility gene drive (p=1, h=0.8)", "dx": -45},
   "data": {"name": "e"},
   "layer": [
    {"mark": {"type": "point", "opacity": 0},
     "encoding": {
      "x": {"field": "t", "type": "quantitative", "scale": {"domain": [-2.5, 52.5], "nice": false, "zero": false}, "axis": {"orient": "bottom", "values": [5, 15, 25, 35, 45], "grid": true, "gridWidth": 1, "ticks": false, "labels": false, "domain": false, "title": null}},
      "y": {"field": "n", "type": "quantitative", "scale": {"domain": [-73, 1536], "nice": false, "zero": false}, "axis": {"orient": "left", "values": [250, 750, 1250], "grid": true, "gridWidth": 1, "ticks": false, "labels": false, "domain": false, "title": null}}
     }},
    {"mark": {"type": "area", "interpolate": "linear"},
     "transform": [{"calculate": "indexof(['Wild type', 'Heterozygous CRISPR/Cas9 carrier', 'Homozygous CRISPR/Cas9 carrier'], datum.pop)", "as": "stack_rank"}],
     "encoding": {
      "x": {"field": "t", "type": "quantitative", "scale": {"domain": [-2.5, 52.5], "nice": false, "zero": false}, "axis": {"orient": "bottom", "values": [0, 10, 20, 30, 40, 50], "grid": true, "gridWidth": 2, "labelFlush": false, "title": null}},
      "y": {"field": "n", "type": "quantitative", "stack": "zero", "scale": {"domain": [-73, 1536], "nice": false, "zero": false}, "axis": {"orient": "left", "values": [0, 500, 1000, 1500], "format": "d", "grid": true, "gridWidth": 2, "title": null}},
      "order": {"field": "stack_rank", "type": "quantitative"},
      "color": {"field": "pop", "type": "nominal", "scale": {"domain": ["Wild type", "Heterozygous CRISPR/Cas9 carrier", "Homozygous CRISPR/Cas9 carrier"], "range": ["#AAB9DE", "#EDB52B", "#30528A"]}, "title": "Population"}
     }}
   ],
   "resolve": {"axis": {"x": "independent", "y": "independent"}}
  }
 ],
 "config": {
  "font": "Liberation Sans",
  "view": {"fill": "#EBEBEB", "stroke": null},
  "axis": {"domain": false, "gridColor": "#FFFFFF", "tickColor": "#333333", "tickSize": 4, "tickWidth": 1.5, "labelFont": "Liberation Sans", "labelFontSize": 17.5, "labelColor": "#4D4D4D", "labelPadding": 2, "titleFont": "Liberation Sans", "titleFontSize": 17.5, "titleFontWeight": "normal", "titleColor": "#1A1A1A"},
  "title": {"anchor": "start", "frame": "group", "font": "Liberation Sans", "fontSize": 17.8, "fontWeight": "normal", "color": "#1A1A1A", "offset": 23},
  "legend": {"orient": "none", "legendX": 2, "legendY": 424, "padding": 0, "titleFont": "Liberation Sans", "titleFontSize": 18, "titleFontWeight": "normal", "titleColor": "#1A1A1A", "titlePadding": 8, "labelFont": "Liberation Sans", "labelFontSize": 18, "labelColor": "#1A1A1A", "labelLimit": 0, "symbolType": "square", "symbolSize": 576, "symbolStrokeWidth": 0, "symbolOpacity": 1, "rowPadding": 3, "labelOffset": 5, "symbolOffset": 0}
 }
}
